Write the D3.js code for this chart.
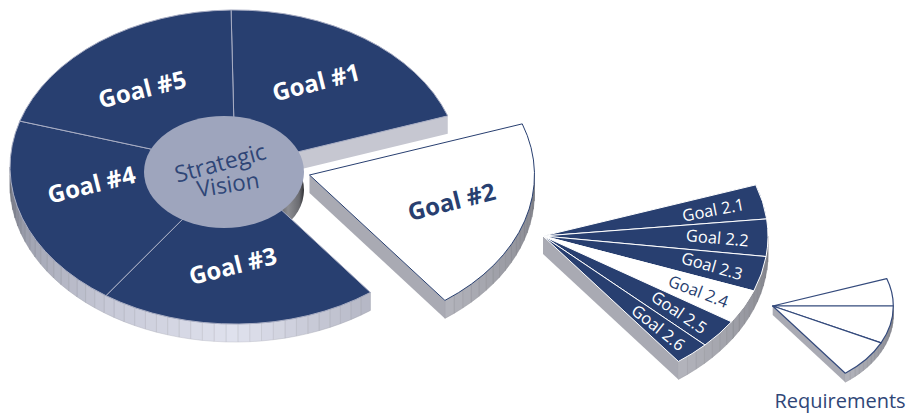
<!DOCTYPE html>
<html>
<head>
<meta charset="utf-8">
<script src="https://cdn.jsdelivr.net/npm/d3@7/dist/d3.min.js"></script>
<style>
  html, body { margin: 0; padding: 0; background: #fff; }
  svg { display: block; }
  text { font-family: "Open Sans", "Noto Sans", sans-serif; text-anchor: middle; dominant-baseline: central; }
</style>
</head>
<body>
<div id="chart"></div>
<script>
// Strategic vision breakdown: goals, then sub-goals, then requirements.
const goalNames = ["Goal #1", "Goal #2", "Goal #3", "Goal #4", "Goal #5"];
const goalShares = [20, 20, 20, 20, 20];
const subGoalNames = ["Goal 2.1", "Goal 2.2", "Goal 2.3", "Goal 2.4", "Goal 2.5", "Goal 2.6"];
const subGoalShares = [12.7, 13.7, 12.9, 12.6, 10.8, 9];
const requirementShares = [19, 26, 27];
const centreTitle = ["Strategic", "Vision"];
const requirementsTitle = "Requirements";

// Highlighted slice within its pie
const explodedGoal = "Goal #2";
const highlightedSubGoal = "Goal 2.4";

// Layout of the oblique view
const width = 915, height = 413;
const NAVY = "#283f70", HUB = "#9ea5bd";
const tilt = 0.698;
const rad = d => d * Math.PI / 180;
const START_DEG = -1;
const pieMain = { x: 235, y: 167, r: 225, depth: 18 };
const pieGoal = { x: 309.5, y: 175, r: 225, depth: 18 };
const pieSub = { x: 543, y: 236, r: 225, depth: 18 };
const pieReq = { x: 772.7, y: 306, r: 120.6, depth: 9 };
const hub = { x: 224, y: 172, rx: 80, ry: 56 };
const FACET = 3; // degrees per side facet

const svg = d3.select("#chart").append("svg").attr("width", width).attr("height", height);

const defs = svg.append("defs");
const hubGrad = defs.append("linearGradient").attr("id", "hubSide");
[[0.62, "#2e2e30"], [0.8, "#3d3d40"], [0.9, "#8c8d92"], [0.97, "#6a6b70"], [1, "#2f2f33"]]
  .forEach(([o, c]) => hubGrad.append("stop").attr("offset", o).attr("stop-color", c));

const mainSideColor = d3.scaleLinear()
  .domain([143, 180, 215, 245, 270])
  .range(["#b4b6c4", "#e0e2ee", "#c6c8d6", "#a2a5b3", "#70737f"]);
const wedgeSideColor = d3.scaleLinear()
  .domain([90, 143])
  .range(["#7d7e86", "#b4b5bd"]);

const point = (p, deg, drop = 0) => [
  p.x + p.r * Math.sin(rad(deg)),
  p.y - p.r * tilt * Math.cos(rad(deg)) + drop
];
const poly = d3.line();

// Curved rim: a run of flat facets, which gives the ribbed look of the extrusion
function drawRim(g, p, from, to, color) {
  const steps = Math.max(1, Math.round((to - from) / FACET));
  const angles = d3.range(steps).map(i => from + (to - from) * i / steps);
  const dAngle = (to - from) / steps;
  g.selectAll(null).data(angles).join("path")
    .attr("d", a => poly([point(p, a), point(p, a + dAngle), point(p, a + dAngle, p.depth), point(p, a, p.depth)]) + "Z")
    .attr("fill", a => color(a + dAngle / 2))
    .attr("stroke", a => d3.color(color(a + dAngle / 2)).darker(0.4))
    .attr("stroke-width", 0.5);
}

// Straight cut face running from the pie's apex to an edge point
function drawCutFace(g, p, deg, fill) {
  const apex = [p.x, p.y];
  const apexLow = [p.x, p.y + p.depth];
  g.append("path")
    .attr("d", poly([apex, point(p, deg), point(p, deg, p.depth), apexLow]) + "Z")
    .attr("fill", fill);
}

// Top faces: d3.arc sectors squashed vertically for the oblique view
function drawTops(g, p, slices, fillOf, strokeOf, strokeWidth) {
  const arc = d3.arc().innerRadius(0).outerRadius(p.r);
  g.append("g")
    .attr("transform", `translate(${p.x},${p.y}) scale(1,${tilt})`)
    .selectAll("path").data(slices).join("path")
    .attr("d", arc)
    .attr("fill", fillOf)
    .attr("stroke", strokeOf)
    .attr("stroke-width", strokeWidth)
    .attr("stroke-linejoin", "round")
    .attr("vector-effect", "non-scaling-stroke");
}

function label(g, text, x, y, angle, size, weight, fill) {
  g.append("text")
    .attr("transform", `translate(${x},${y}) rotate(${angle})`)
    .attr("font-size", size).attr("font-weight", weight).attr("fill", fill)
    .text(text);
}

// Main pie: five goals, one of them pulled away
const goalSlices = d3.pie().sort(null).startAngle(rad(START_DEG)).endAngle(rad(START_DEG + 360))(goalShares)
  .map((s, i) => ({ ...s, name: goalNames[i] }));
const restSlices = goalSlices.filter(s => s.name !== explodedGoal);
const pulled = goalSlices.find(s => s.name === explodedGoal);
const pulledStart = pulled.startAngle * 180 / Math.PI;
const pulledEnd = pulled.endAngle * 180 / Math.PI;

const mainG = svg.append("g");
drawRim(mainG, pieMain, pulledEnd, 270, mainSideColor);
drawCutFace(mainG, pieMain, pulledStart, "#c6c7d1");
mainG.append("ellipse")
  .attr("cx", hub.x).attr("cy", hub.y + pieMain.depth)
  .attr("rx", hub.rx).attr("ry", hub.ry)
  .attr("fill", "url(#hubSide)");
drawTops(mainG, pieMain, restSlices, NAVY, "#a9aec4", 1);
mainG.append("ellipse")
  .attr("cx", hub.x).attr("cy", hub.y).attr("rx", hub.rx).attr("ry", hub.ry)
  .attr("fill", HUB);

// Goal #2 on its own
const goalG = svg.append("g");
drawCutFace(goalG, pieGoal, pulledEnd, "#a9aab3");
drawRim(goalG, pieGoal, 90, pulledEnd, wedgeSideColor);
drawTops(goalG, pieGoal, [pulled], "#fff", NAVY, 1);

// Slice labels follow the oblique axis of the top face
const goalNudge = {
  "Goal #1": [-3, -2],
  "Goal #2": [2, -4],
  "Goal #3": [-5, -4],
  "Goal #4": [-5.5, -16.5],
  "Goal #5": [-5, 3]
};
const LABEL_R = 0.65;
goalSlices.forEach(s => {
  const mid = (s.startAngle + s.endAngle) / 2 * 180 / Math.PI;
  const base = s.name === explodedGoal ? pieGoal : pieMain;
  const [nx, ny] = goalNudge[s.name];
  const px = base.x + base.r * LABEL_R * Math.sin(rad(mid)) + nx;
  const py = base.y - base.r * tilt * LABEL_R * Math.cos(rad(mid)) + ny;
  label(svg, s.name, px, py, -14, 24, 700, s.name === explodedGoal ? NAVY : "#fff");
});
label(svg, centreTitle[0], 220, 162, -15, 23, 400, "#2f4677");
label(svg, centreTitle[1], 228, 184, -9, 22.5, 400, "#2f4677");

// Goal #2 split into sub-goals
const subSlices = d3.pie().sort(null).startAngle(pulled.startAngle).endAngle(pulled.endAngle)(subGoalShares)
  .map((s, i) => ({ ...s, name: subGoalNames[i] }));
const subG = svg.append("g");
drawCutFace(subG, pieSub, pulledEnd, "#a9aab3");
drawRim(subG, pieSub, 90, pulledEnd, wedgeSideColor);
drawTops(subG, pieSub, subSlices, s => s.name === highlightedSubGoal ? "#fff" : NAVY, "#fff", 1);

const subLabelTilt = [-11, 5, 16, 21, 34, 38.6];
const SUB_LABEL_R = 0.775;
subSlices.forEach((s, i) => {
  const mid = (s.startAngle + s.endAngle) / 2;
  const px = pieSub.x + pieSub.r * SUB_LABEL_R * Math.sin(mid);
  const py = pieSub.y - pieSub.r * tilt * SUB_LABEL_R * Math.cos(mid);
  label(subG, s.name, px, py, subLabelTilt[i], 16.5, 400, s.name === highlightedSubGoal ? NAVY : "#fff");
});

// One sub-goal split into requirements
const reqSlices = d3.pie().sort(null).startAngle(pulled.startAngle).endAngle(pulled.endAngle)(requirementShares);
const reqG = svg.append("g");
drawCutFace(reqG, pieReq, pulledEnd, "#a9aab3");
drawRim(reqG, pieReq, 90, pulledEnd, wedgeSideColor);
drawTops(reqG, pieReq, reqSlices, "#fff", "#344a7c", 1.2);
label(reqG, requirementsTitle, 840, 400, 0, 20, 400, "#2f4677");
</script>
</body>
</html>
